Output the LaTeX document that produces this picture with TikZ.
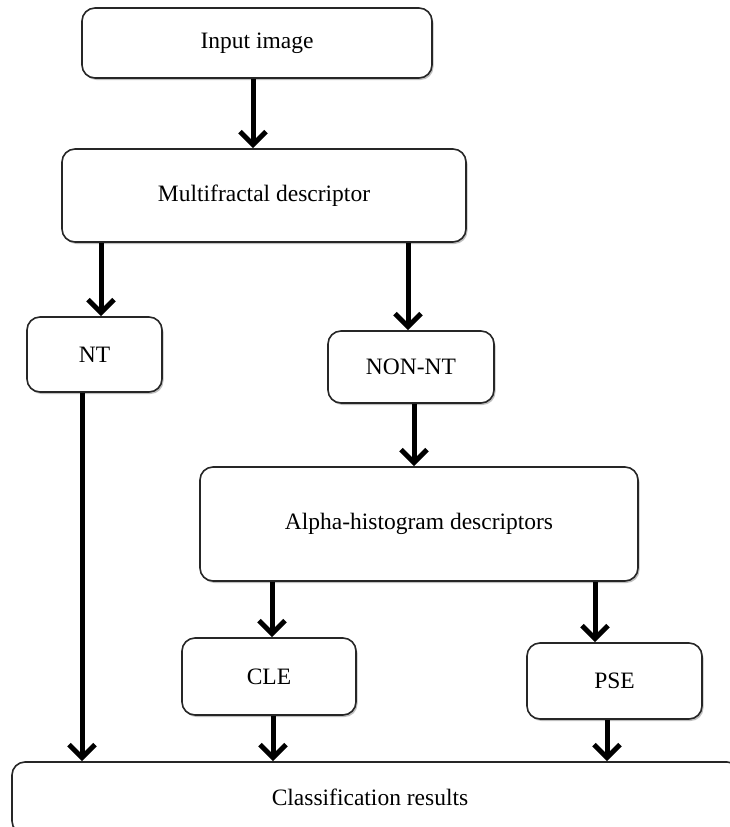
\documentclass[tikz,border=0pt]{standalone}
\usepackage{fontspec}
\setmainfont{Liberation Serif}
\usetikzlibrary{arrows.meta,shadows}
\begin{document}
\begin{tikzpicture}[x=1pt,y=-1pt,
  box/.style={draw=black!85, line width=1.6pt, rounded corners=13pt, fill=white, inner sep=0pt,
    drop shadow={shadow xshift=1.5pt, shadow yshift=-2pt, opacity=0.25, fill=black},
    font=\fontsize{23.5}{28}\selectfont},
  lbl/.style={inner sep=0pt, font=\fontsize{23.5}{28}\selectfont},
  arr/.style={line width=5pt, -{Straight Barb[length=13pt, width=26pt, line width=5pt]}}]
\useasboundingbox (0,0) rectangle (730,827);
\clip (0,0) rectangle (730,827);
\node[box, minimum width=350pt, minimum height=70pt] (inp) at (257,43) {Input image};
\node[box, minimum width=404pt, minimum height=93pt] (mf) at (264,195.5) {Multifractal descriptor};
\node[box, minimum width=135pt, minimum height=75pt] (nt) at (94.5,354.5) {NT};
\node[box, minimum width=166pt, minimum height=72pt] (non) at (411,367) {NON-NT};
\node[box, minimum width=438pt, minimum height=114pt] (alpha) at (419,524) {Alpha-histogram descriptors};
\node[box, minimum width=174pt, minimum height=77pt] (cle) at (269,676.5) {CLE};
\node[box, minimum width=175pt, minimum height=76pt] (pse) at (614.5,681) {PSE};
\node[box, minimum width=728pt, minimum height=72pt] (cls) at (376,798) {};
\node[lbl] (clsT) at (370,797) {Classification results};
\draw[arr] (253,0 |- inp.south) -- (253,0 |- mf.north);
\draw[arr] (101,0 |- mf.south) -- (101,0 |- nt.north);
\draw[arr] (408,0 |- mf.south) -- (408,0 |- non.north);
\draw[arr] (82,0 |- nt.south) -- (82,0 |- cls.north);
\draw[arr] (414,0 |- non.south) -- (414,0 |- alpha.north);
\draw[arr] (272,0 |- alpha.south) -- (272,0 |- cle.north);
\draw[arr] (595,0 |- alpha.south) -- (595,0 |- pse.north);
\draw[arr] (273,0 |- cle.south) -- (273,0 |- cls.north);
\draw[arr] (607,0 |- pse.south) -- (607,0 |- cls.north);
\end{tikzpicture}
\end{document}
